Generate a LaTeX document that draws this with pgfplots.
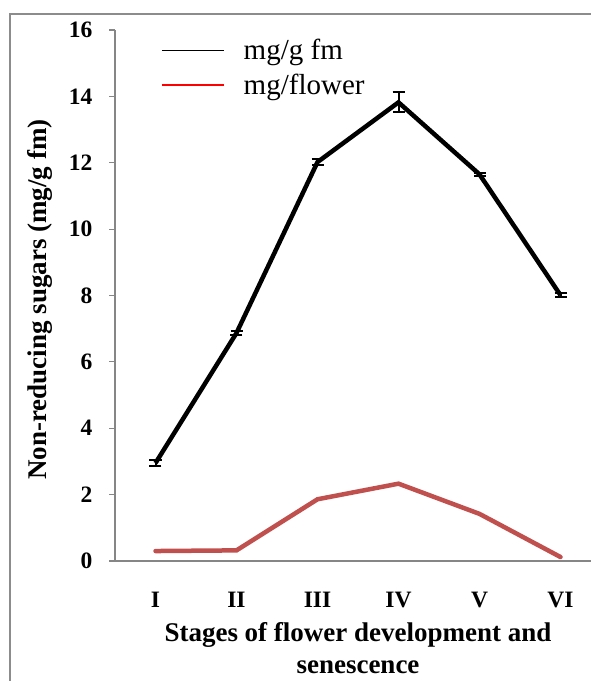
\documentclass[border=0pt]{standalone}
\usepackage{fontspec}
\setmainfont{Liberation Serif}
\usepackage{pgfplots}
\pgfplotsset{compat=1.18}
\definecolor{axisgray}{HTML}{868686}
\definecolor{framegray}{HTML}{8C8C8C}
\definecolor{seriesred}{HTML}{C0504D}

% Non-reducing sugars per stage
\pgfplotstableread{
x  fm     fmerr  fl
1  2.95   0.08   0.30
2  6.87   0.07   0.32
3  12.02  0.08   1.86
4  13.82  0.30   2.33
5  11.65  0.05   1.42
6  8.01   0.07   0.12
}\sugars

\begin{document}
\begin{tikzpicture}[x=1pt,y=1pt]
\useasboundingbox (0,0) rectangle (591,681);
\clip (0,0) rectangle (591,681);
% outer frame
\draw[framegray, line width=2pt] (10,-10) -- (10,667) -- (620,667);
\begin{axis}[
  at={(115pt,120pt)}, anchor=south west,
  scale only axis, width=486pt, height=531pt,
  xmin=0.5, xmax=6.5, ymin=0, ymax=16,
  axis x line*=bottom, axis y line*=left,
  axis line style={axisgray, line width=1.2pt},
  tick align=outside,
  xtick={1,...,6}, xticklabels={I,II,III,IV,V,VI},
  xtick style={draw=none},
  minor xtick={0.5,1.5,...,6.5},
  minor tick length=8pt,
  minor x tick style={axisgray, line width=1.2pt},
  ytick={0,2,...,16},
  major tick length=6pt,
  ytick style={axisgray, line width=1.2pt},
  tick label style={font=\fontsize{23.5}{27}\selectfont\bfseries},
  /pgf/number format/assume math mode=true,
  yticklabel style={xshift=-13pt},
  xticklabel style={yshift=-22pt},
  xlabel={Stages of flower development and\\senescence},
  ylabel={Non-reducing sugars (mg/g fm)},
  every axis x label/.style={at={(rel axis cs:0.5,0)}, anchor=north, yshift=-58pt,
    align=center, font=\fontsize{27}{32}\selectfont\bfseries},
  every axis y label/.style={at={(rel axis cs:0,0.5)}, xshift=-75pt, yshift=-4pt,
    rotate=90, anchor=center, font=\fontsize{27}{32}\selectfont\bfseries},
  legend style={draw=none, fill=none, at={(rel axis cs:0.09,0.99)}, anchor=north west,
    font=\fontsize{29}{33}\selectfont, row sep=9pt, inner sep=2pt},
  legend cell align=left,
  legend image code/.code={\draw[#1] (0pt,0pt) -- (62pt,0pt); \path (79pt,0pt);},
  clip=false,
]
\addlegendimage{black, line width=1.8pt}
\addlegendentry{mg/g fm}
\addlegendimage{red, line width=1.8pt}
\addlegendentry{mg/flower}

\addplot[black, line width=4.5pt, forget plot,
  error bars/.cd, y dir=both, y explicit,
  error bar style={black, line width=2pt},
  error mark options={black, line width=2pt, mark size=6pt, rotate=90}]
  table[x=x, y=fm, y error=fmerr] {\sugars};
\addplot[seriesred, line width=4.5pt, line cap=round, forget plot]
  table[x=x, y=fl] {\sugars};
\end{axis}
\end{tikzpicture}
\end{document}
